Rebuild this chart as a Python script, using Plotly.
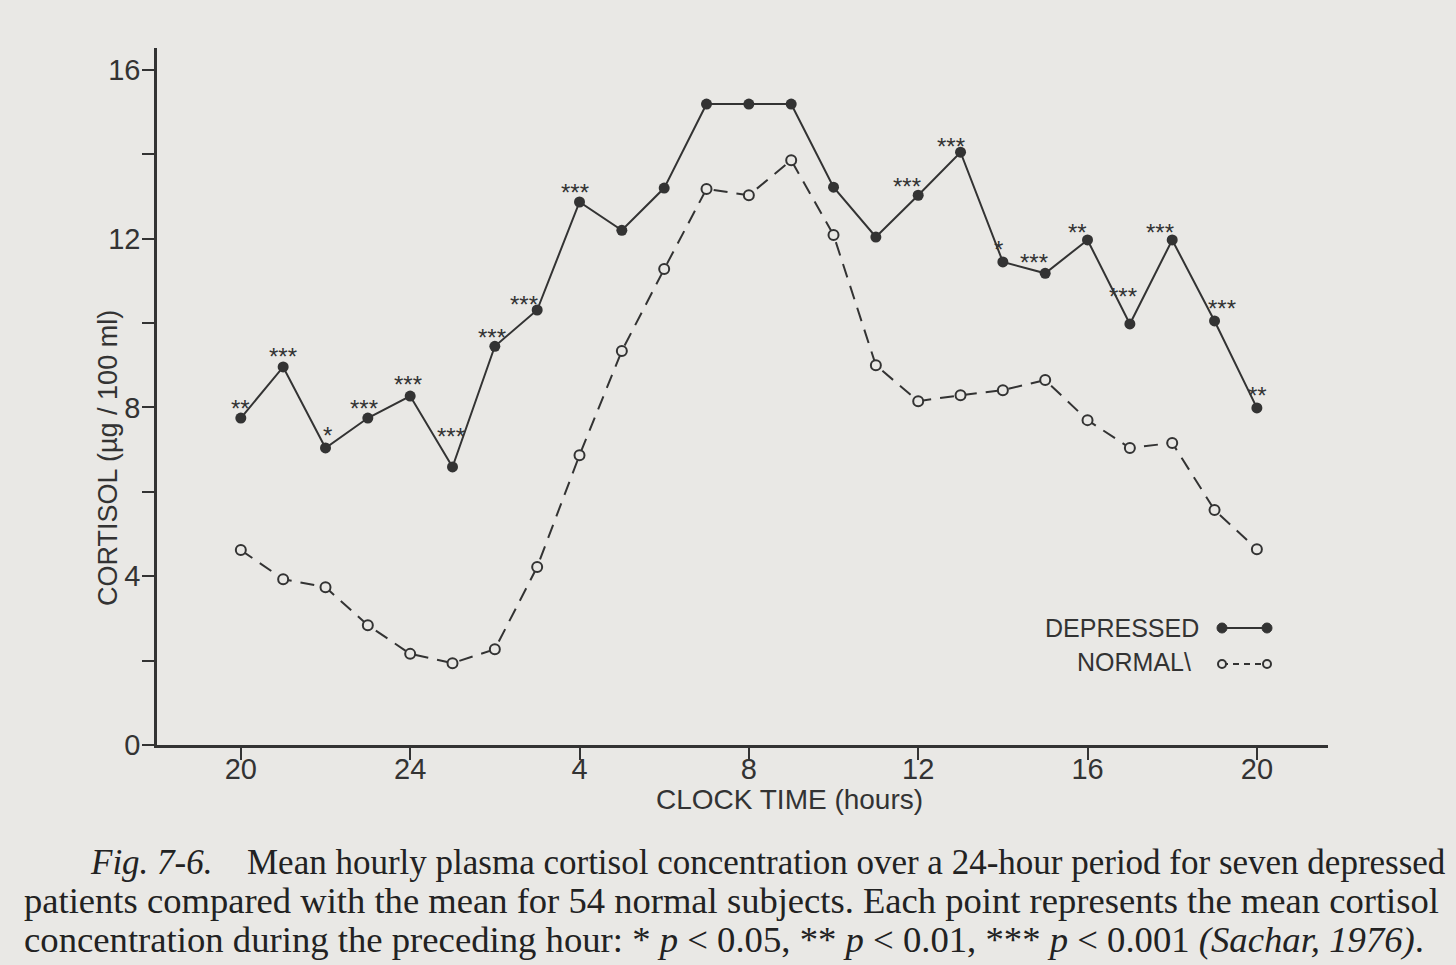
import plotly.graph_objects as go

# ---------------- data ----------------
hours = list(range(25))  # hourly points from 20:00 to 20:00 next day
depressed = [7.75, 8.96, 7.04, 7.75, 8.27, 6.59, 9.45, 10.31, 12.87, 12.20, 13.20, 15.19,
             15.19, 15.19, 13.22, 12.04, 13.03, 14.05, 11.45, 11.18, 11.97, 9.98, 11.97,
             10.05, 7.99]
normal = [4.62, 3.93, 3.74, 2.84, 2.16, 1.94, 2.27, 4.22, 6.87, 9.34, 11.28, 13.18,
          13.03, 13.86, 12.09, 9.00, 8.15, 8.29, 8.41, 8.65, 7.70, 7.04, 7.16, 5.57, 4.64]
significance = ["**", "***", "*", "***", "***", "***", "***", "***", "***", "", "", "",
                "", "", "", "", "***", "***", "*", "***", "**", "***", "***", "***", "**"]
x_tickvals = [0, 4, 8, 12, 16, 20, 24]
x_ticklabels = ["20", "24", "4", "8", "12", "16", "20"]
y_tickvals = [0, 2, 4, 6, 8, 10, 12, 14, 16]
y_ticklabels = ["0", "", "4", "", "8", "", "12", "", "16"]

# ---------------- style ----------------
W, H = 1456, 965
L, R, T, B = 157, 128, 48, 220
PW, PH = W - L - R, H - T - B
BG = "#e9e8e5"
INK = "#333333"
SANS = "Liberation Sans, Arial, sans-serif"
SERIF = "Liberation Serif, Times New Roman, serif"

# pixel offsets for the significance stars (style only)
star_dx = [0, 0, 2, -4, -2, -2, -3, -13, -5, 0, 0, 0, 0, 0, 0, 0,
           -11, -10, -4, -11, -10, -7, -12, 7, 1]
star_dy = [14, 14, 16, 14, 16, 34, 13, 10, 14, 0, 0, 0, 0, 0, 0, 0,
           13, 10, 16, 15, 11, 31, 11, 16, 16]


def px(xp):
    return (xp - L) / PW


def py(yp):
    return (H - B - yp) / PH


fig = go.Figure()
fig.add_trace(go.Scatter(
    x=hours, y=normal, mode="lines+markers", name="NORMAL",
    line=dict(color=INK, width=2, dash="14px,9px"),
    marker=dict(symbol="circle", size=10, color=BG, line=dict(color=INK, width=2)),
))
fig.add_trace(go.Scatter(
    x=hours, y=depressed, mode="lines+markers", name="DEPRESSED",
    line=dict(color=INK, width=2),
    marker=dict(symbol="circle", size=11, color=INK),
))

annotations = []
for i, s in enumerate(significance):
    if not s:
        continue
    annotations.append(dict(
        x=hours[i], y=depressed[i], xref="x", yref="y",
        text=s, showarrow=False,
        font=dict(family=SANS, size=24, color=INK),
        xanchor="center", yanchor="middle",
        xshift=star_dx[i], yshift=star_dy[i] - 4,
    ))

# axis titles
annotations.append(dict(
    x=px(108), y=py(458), xref="paper", yref="paper",
    text="CORTISOL (\u00b5g / 100 ml)", textangle=-90, showarrow=False,
    font=dict(family=SANS, size=27, color=INK), xanchor="center", yanchor="middle"))
annotations.append(dict(
    x=px(789), y=py(799), xref="paper", yref="paper",
    text="CLOCK TIME (hours)", showarrow=False,
    font=dict(family=SANS, size=28, color=INK), xanchor="center", yanchor="middle"))

# legend texts
annotations.append(dict(
    x=px(1201), y=py(628), xref="paper", yref="paper", text="DEPRESSED",
    showarrow=False, font=dict(family=SANS, size=25, color=INK),
    xanchor="right", yanchor="middle"))
annotations.append(dict(
    x=px(1193), y=py(662), xref="paper", yref="paper", text="NORMAL\\",
    showarrow=False, font=dict(family=SANS, size=25, color=INK),
    xanchor="right", yanchor="middle"))

# caption
annotations.append(dict(
    x=px(88), y=py(862), xref="paper", yref="paper", text="<i>Fig. 7-6.</i>",
    showarrow=False, font=dict(family=SERIF, size=35, color="#222222"),
    xanchor="left", yanchor="middle"))
annotations.append(dict(
    x=px(245), y=py(862), xref="paper", yref="paper",
    text="Mean hourly plasma cortisol concentration over a 24-hour period for seven depressed",
    showarrow=False, font=dict(family=SERIF, size=35, color="#222222"),
    xanchor="left", yanchor="middle"))
annotations.append(dict(
    x=px(22), y=py(900), xref="paper", yref="paper",
    text="patients compared with the mean for 54 normal subjects. Each point represents the mean cortisol",
    showarrow=False, font=dict(family=SERIF, size=36.6, color="#222222"),
    xanchor="left", yanchor="middle"))
annotations.append(dict(
    x=px(22), y=py(939), xref="paper", yref="paper",
    text=("concentration during the preceding hour: * <i>p</i> &lt; 0.05, "
          "** <i>p</i> &lt; 0.01, *** <i>p</i> &lt; 0.001 "
          "<i>(Sachar, 1976)</i>."),
    showarrow=False, font=dict(family=SERIF, size=36.7, color="#222222"),
    xanchor="left", yanchor="middle"))

# legend keys (decorations)
shapes = []
rx, ry = 5 / PW, 5 / PH
shapes.append(dict(type="line", xref="paper", yref="paper",
                   x0=px(1222), x1=px(1267), y0=py(628), y1=py(628),
                   line=dict(color=INK, width=2)))
for xp in (1222, 1267):
    shapes.append(dict(type="circle", xref="paper", yref="paper",
                       x0=px(xp) - rx, x1=px(xp) + rx, y0=py(628) - ry, y1=py(628) + ry,
                       fillcolor=INK, line=dict(color=INK, width=1)))
shapes.append(dict(type="line", xref="paper", yref="paper",
                   x0=px(1222), x1=px(1267), y0=py(664), y1=py(664),
                   line=dict(color=INK, width=2, dash="6px,5px")))
rx2, ry2 = 4 / PW, 4 / PH
for xp in (1222, 1267):
    shapes.append(dict(type="circle", xref="paper", yref="paper",
                       x0=px(xp) - rx2, x1=px(xp) + rx2, y0=py(664) - ry2, y1=py(664) + ry2,
                       fillcolor=BG, line=dict(color=INK, width=2)))

fig.update_layout(
    width=W, height=H,
    margin=dict(l=L, r=R, t=T, b=B, pad=0),
    paper_bgcolor=BG, plot_bgcolor=BG,
    showlegend=False,
    annotations=annotations, shapes=shapes,
    xaxis=dict(range=[-1.98, 25.68], tickmode="array", tickvals=x_tickvals,
               ticktext=x_ticklabels, ticks="outside", ticklen=12, tickwidth=2,
               tickcolor=INK, showline=True, linecolor=INK, linewidth=2.5,
               showgrid=False, zeroline=False, ticklabelstandoff=-16,
               tickfont=dict(family=SANS, size=29, color=INK)),
    yaxis=dict(range=[0, 16.52], tickmode="array", tickvals=y_tickvals,
               ticktext=y_ticklabels, ticks="outside", ticklen=12, tickwidth=2,
               tickcolor=INK, showline=True, linecolor=INK, linewidth=2.5,
               showgrid=False, zeroline=False, ticklabelstandoff=-4,
               tickfont=dict(family=SANS, size=29, color=INK)),
)

fig.write_html("out.html")
